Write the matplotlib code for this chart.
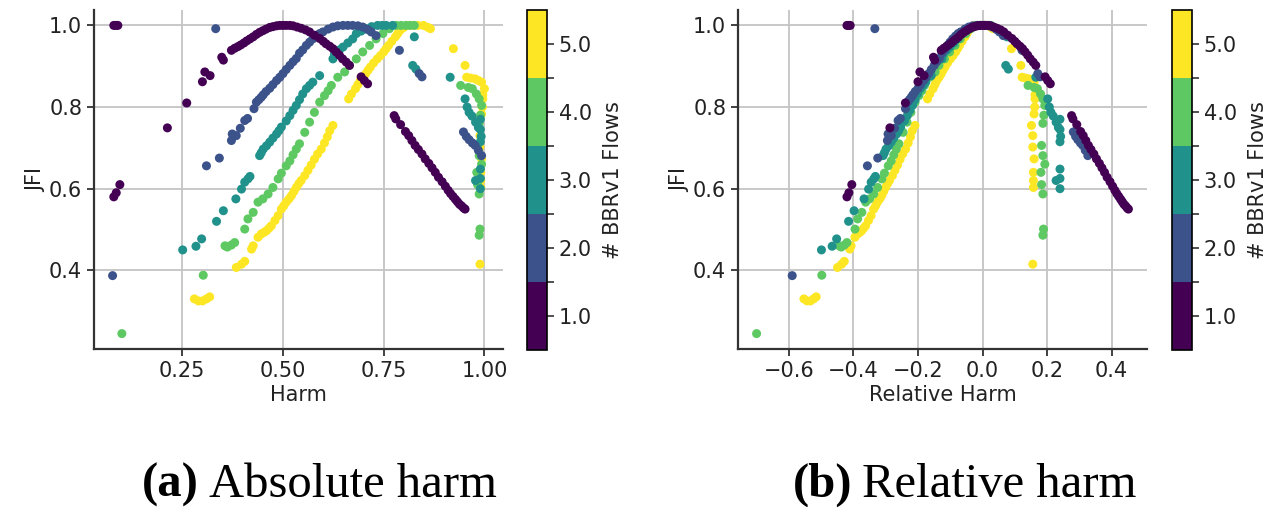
import numpy as np
import matplotlib
matplotlib.use('Agg')
from matplotlib import pyplot as plt
from matplotlib.colors import BoundaryNorm
from matplotlib.cm import ScalarMappable

# number of BBRv1 flows and their fair share of the link
flows = [1, 2, 3, 4, 5]
fair_share = [1 / 2, 2 / 3, 3 / 4, 4 / 5, 5 / 6]

harm_1 = [0.080, 0.085, 0.090, 0.080, 0.086, 0.095, 0.213, 0.261, 0.300, 0.306, 0.319, 0.348, 0.352,
          0.372, 0.380, 0.388, 0.395, 0.403, 0.410, 0.418, 0.426, 0.434, 0.442, 0.450, 0.458, 0.467,
          0.475, 0.484, 0.492, 0.500, 0.508, 0.517, 0.525, 0.535, 0.545, 0.556, 0.566, 0.578, 0.591,
          0.600, 0.607, 0.616, 0.624, 0.632, 0.640, 0.648, 0.657, 0.665, 0.694, 0.702, 0.710,
          0.776, 0.780, 0.792, 0.804, 0.812, 0.820, 0.828, 0.836, 0.845, 0.853, 0.862, 0.870, 0.878,
          0.886, 0.895, 0.903, 0.910, 0.916, 0.922, 0.928, 0.933, 0.938, 0.943, 0.948, 0.952]
jfi_1 = [1.000, 1.000, 1.000, 0.580, 0.590, 0.610, 0.749, 0.810, 0.862, 0.886, 0.877, 0.922, 0.915,
         0.939, 0.944, 0.948, 0.952, 0.957, 0.962, 0.967, 0.972, 0.978, 0.983, 0.987, 0.991, 0.995,
         0.997, 0.999, 1.000, 1.000, 1.000, 1.000, 0.999, 0.996, 0.993, 0.989, 0.984, 0.976, 0.968,
         0.961, 0.955, 0.949, 0.943, 0.935, 0.927, 0.918, 0.910, 0.902, 0.874, 0.865, 0.857,
         0.779, 0.771, 0.757, 0.740, 0.730, 0.718, 0.706, 0.696, 0.685, 0.673, 0.662, 0.651, 0.640,
         0.628, 0.617, 0.606, 0.596, 0.588, 0.581, 0.574, 0.568, 0.562, 0.558, 0.553, 0.550]

harm_2 = [0.077, 0.333, 0.310, 0.342, 0.372, 0.374, 0.384, 0.394, 0.405, 0.412, 0.428, 0.434, 0.440,
          0.446, 0.451, 0.458, 0.467, 0.475, 0.484, 0.492, 0.500, 0.508, 0.517, 0.525, 0.533, 0.541,
          0.549, 0.558, 0.566, 0.574, 0.583, 0.591, 0.599, 0.612, 0.624, 0.636, 0.649, 0.661, 0.673,
          0.686, 0.698, 0.710, 0.719, 0.731, 0.789, 0.838, 0.845,
          0.948, 0.955, 0.962, 0.970, 0.977, 0.985, 0.993]
jfi_2 = [0.387, 0.992, 0.656, 0.675, 0.718, 0.734, 0.730, 0.748, 0.767, 0.772, 0.796, 0.812, 0.818,
         0.824, 0.830, 0.838, 0.846, 0.855, 0.865, 0.873, 0.882, 0.892, 0.902, 0.911, 0.919, 0.932,
         0.940, 0.951, 0.959, 0.967, 0.974, 0.980, 0.984, 0.991, 0.996, 0.999, 1.000, 1.000, 1.000,
         0.999, 0.996, 0.990, 0.984, 0.975, 0.939, 0.882, 0.874,
         0.739, 0.728, 0.720, 0.712, 0.706, 0.694, 0.681]

harm_3 = [0.251, 0.284, 0.298, 0.335, 0.352, 0.383, 0.397, 0.405, 0.413, 0.418, 0.442, 0.446, 0.451,
          0.459, 0.467, 0.475, 0.484, 0.490, 0.496, 0.508, 0.517, 0.525, 0.533, 0.541, 0.549, 0.558,
          0.566, 0.574, 0.591, 0.624, 0.628, 0.640, 0.649, 0.661, 0.673, 0.682, 0.694, 0.706, 0.720,
          0.735, 0.746, 0.756, 0.772, 0.826, 0.822, 0.830, 0.915,
          0.952, 0.957, 0.962, 0.969, 0.978, 0.985, 0.990, 0.990, 0.992, 0.990, 0.990, 0.990, 0.990,
          0.978]
jfi_3 = [0.450, 0.459, 0.477, 0.520, 0.546, 0.575, 0.599, 0.616, 0.624, 0.630, 0.681, 0.688, 0.697,
         0.705, 0.714, 0.724, 0.734, 0.742, 0.751, 0.766, 0.779, 0.792, 0.804, 0.818, 0.832, 0.845,
         0.853, 0.861, 0.877, 0.918, 0.930, 0.940, 0.947, 0.957, 0.967, 0.980, 0.986, 0.992, 0.997,
         1.000, 1.000, 1.000, 1.000, 0.972, 0.902, 0.893, 0.873,
         0.820, 0.800, 0.787, 0.778, 0.763, 0.750, 0.770, 0.745, 0.728, 0.715, 0.648, 0.625, 0.600,
         0.620]

harm_4 = [0.100, 0.302, 0.356, 0.362, 0.372, 0.380, 0.405, 0.413, 0.426, 0.438, 0.450, 0.463, 0.475,
          0.488, 0.496, 0.508, 0.517, 0.525, 0.533, 0.541, 0.554, 0.566, 0.578, 0.591, 0.603, 0.612,
          0.620, 0.636, 0.653, 0.665, 0.682, 0.698, 0.715, 0.731, 0.748, 0.764, 0.781, 0.793, 0.805,
          0.815, 0.826,
          0.941, 0.960, 0.970, 0.980, 0.987, 0.993, 0.990, 0.987, 0.983, 0.987, 0.993, 0.981, 0.983,
          0.987, 0.989, 0.987]
jfi_4 = [0.245, 0.388, 0.460, 0.457, 0.462, 0.468, 0.501, 0.526, 0.542, 0.567, 0.575, 0.587, 0.603,
         0.624, 0.638, 0.656, 0.668, 0.683, 0.697, 0.710, 0.738, 0.763, 0.787, 0.812, 0.828, 0.840,
         0.853, 0.873, 0.886, 0.902, 0.918, 0.935, 0.951, 0.967, 0.980, 0.992, 1.000, 1.000, 1.000,
         1.000, 1.000,
         0.853, 0.848, 0.845, 0.832, 0.820, 0.804, 0.780, 0.760, 0.706, 0.681, 0.660, 0.640, 0.610,
         0.587, 0.501, 0.486]

harm_5 = [0.280, 0.290, 0.300, 0.310, 0.318, 0.384, 0.397, 0.405, 0.422, 0.426, 0.438, 0.446, 0.453,
          0.459, 0.465, 0.471, 0.480, 0.488, 0.496, 0.502, 0.508, 0.515, 0.521, 0.527, 0.533, 0.539,
          0.545, 0.554, 0.562, 0.570, 0.578, 0.586, 0.595, 0.603, 0.610, 0.616, 0.624,
          0.663, 0.670, 0.680, 0.686, 0.692, 0.699, 0.705, 0.711, 0.717, 0.725, 0.734, 0.742, 0.750,
          0.756, 0.762, 0.770, 0.779, 0.785, 0.791, 0.800, 0.808, 0.820, 0.835, 0.849, 0.860, 0.866,
          0.923, 0.952, 0.956, 0.966, 0.977, 0.985, 0.993, 1.000, 0.996, 0.996, 0.995, 0.993, 0.985,
          0.989, 0.989, 0.993, 0.991, 0.991, 0.991, 0.989]
jfi_5 = [0.330, 0.325, 0.325, 0.330, 0.335, 0.407, 0.415, 0.422, 0.452, 0.460, 0.481, 0.489, 0.493,
         0.497, 0.503, 0.509, 0.522, 0.534, 0.550, 0.558, 0.567, 0.575, 0.583, 0.593, 0.603, 0.612,
         0.620, 0.632, 0.645, 0.658, 0.672, 0.685, 0.697, 0.712, 0.727, 0.742, 0.755,
         0.820, 0.832, 0.845, 0.855, 0.865, 0.873, 0.881, 0.890, 0.898, 0.908, 0.918, 0.926, 0.935,
         0.943, 0.951, 0.961, 0.972, 0.980, 0.988, 0.995, 1.000, 1.000, 1.000, 1.000, 0.995, 0.992,
         0.943, 0.902, 0.873, 0.871, 0.869, 0.865, 0.861, 0.845, 0.830, 0.820, 0.800, 0.783, 0.755,
         0.730, 0.702, 0.673, 0.640, 0.620, 0.603, 0.415]

harm = [harm_1, harm_2, harm_3, harm_4, harm_5]
jfi = [jfi_1, jfi_2, jfi_3, jfi_4, jfi_5]

plt.rcParams['font.family'] = 'DejaVu Sans'
plt.rcParams['font.size'] = 15

cmap = plt.get_cmap('viridis', 5)
norm = BoundaryNorm(np.arange(0.5, 6.0, 1.0), cmap.N)

fig = plt.figure(figsize=(12.73, 5.07), dpi=100)
W, H = 1273, 507


def box(x0, x1, y0, y1):
    return [x0 / W, 1 - y1 / H, (x1 - x0) / W, (y1 - y0) / H]


def panel(ax_box, cb_box, relative, xlabel, xticks):
    ax = fig.add_axes(box(*ax_box))
    # draw the most flows first so the single-flow points sit on top
    for i in reversed(range(len(flows))):
        x = np.array(harm[i])
        if relative:
            x = x - fair_share[i]
        ax.scatter(x, jfi[i], c=np.full(len(x), flows[i]), cmap=cmap, norm=norm,
                   s=42, linewidths=0, zorder=3)
    ax.set_xticks(xticks)
    ax.set_yticks([0.4, 0.6, 0.8, 1.0])
    ax.grid(True, color='#c4c4c4', linewidth=1.3)
    ax.set_axisbelow(True)
    for side in ['top', 'right']:
        ax.spines[side].set_visible(False)
    for side in ['left', 'bottom']:
        ax.spines[side].set_color('#333333')
        ax.spines[side].set_linewidth(1.6)
    ax.tick_params(width=1.3, length=5, color='#333333', labelcolor='#222222')
    ax.set_xlabel(xlabel, color='#222222', labelpad=3)
    ax.set_ylabel('JFI', color='#222222', labelpad=2)

    cax = fig.add_axes(box(*cb_box))
    cb = fig.colorbar(ScalarMappable(norm=norm, cmap=cmap), cax=cax)
    cb.set_ticks([1, 2, 3, 4, 5])
    cb.set_ticklabels(['1.0', '2.0', '3.0', '4.0', '5.0'])
    cax.set_yticks([1.5, 2.5, 3.5, 4.5], minor=True)
    cax.tick_params(which='both', width=1.2, length=5, color='#333333', labelcolor='#222222')
    cb.outline.set_linewidth(1.2)
    cb.set_label('# BBRv1 Flows', color='#222222', labelpad=8)
    return ax


ax_abs = panel((94, 503, 10, 349), (527, 547, 10, 350), False, 'Harm', [0.25, 0.5, 0.75, 1.0])
ax_abs.set_xticklabels(['0.25', '0.50', '0.75', '1.00'])
ax_rel = panel((738, 1147, 10, 349), (1172, 1192, 10, 350), True, 'Relative Harm',
               [-0.6, -0.4, -0.2, 0.0, 0.2, 0.4])

# sub-figure captions: bold tag followed by regular text
fig.canvas.draw()
renderer = fig.canvas.get_renderer()
for x_px, tag, rest in [(142, '(a)', 'Absolute harm'), (793, '(b)', 'Relative harm')]:
    t = fig.text(x_px / W, 1 - 497 / H, tag, fontsize=35, fontweight='bold',
                 family='Liberation Serif', va='baseline', ha='left')
    bb = t.get_window_extent(renderer)
    fig.text((bb.x1 + 10) / W, 1 - 497 / H, rest, fontsize=35,
             family='Liberation Serif', va='baseline', ha='left')

fig.savefig('out.png', dpi=100)
